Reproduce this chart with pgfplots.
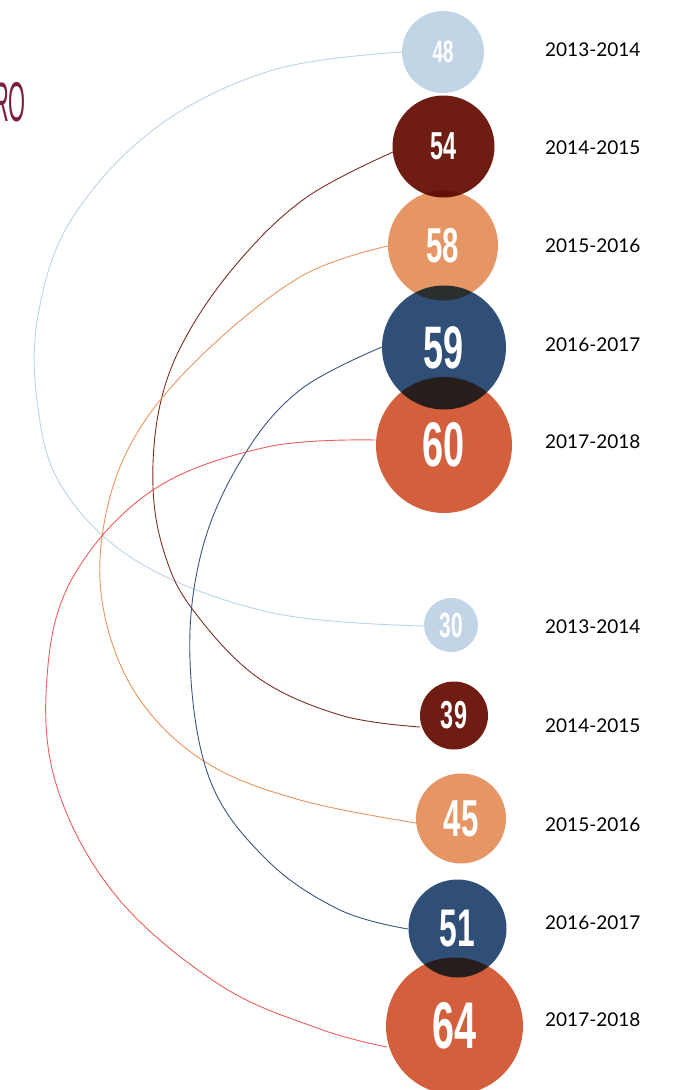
\documentclass[border=0pt]{standalone}
\usepackage{pgfplots}
\pgfplotsset{compat=1.18}
\usepackage{pgfplotstable}
\usepackage{graphicx}
\usepackage{fontspec}
\setmainfont{Lato}
\newfontfamily\numfont{Liberation Sans}

\definecolor{cA}{HTML}{C2D5E7}
\definecolor{cB}{HTML}{6F1D12}
\definecolor{cC}{HTML}{E59664}
\definecolor{cD}{HTML}{2F4F76}
\definecolor{cE}{HTML}{D45F3D}
\definecolor{lA}{HTML}{BCD2E8}
\definecolor{lB}{HTML}{7A2E24}
\definecolor{lC}{HTML}{E9955E}
\definecolor{lD}{HTML}{3A5580}
\definecolor{lE}{HTML}{EF5D5D}
\definecolor{titlered}{HTML}{7D1F3A}

% filled disc without outline (so multiply blending gives no dark ring)
\pgfdeclareplotmark{disc}{\pgfpathcircle{\pgfpointorigin}{\pgfplotmarksize}\pgfusepathqfill}

% x, y in picture pixels (y downwards), r = radius, v = value, fs = digit size
\pgfplotstableread{
x y r v fs
443 52 41 48 31
451 625 27 30 35
}\sA
\pgfplotstableread{
x y r v fs
443.5 146.5 51 54 39
454 715.5 34 39 39
}\sB
\pgfplotstableread{
x y r v fs
443 245.5 55 58 49
461 818.5 45 45 52
}\sC
\pgfplotstableread{
x y r v fs
444 347.5 62 59 60
457.5 928.5 49 51 53
}\sD
\pgfplotstableread{
x y r v fs
444 445 68 60 63
454.5 1026 68.5 64 66
}\sE

\pgfplotsset{
  bubble/.style={scatter, only marks, mark=disc, point meta=\thisrow{v},
    scatter/use mapped color={fill=#1},
    visualization depends on={\thisrow{r}\as\rad},
    scatter/@pre marker code/.append style={/tikz/mark size=\rad pt},
    blend mode=multiply},
  numlbl/.style={only marks, mark=none, point meta=explicit symbolic,
    visualization depends on={\thisrow{fs}\as\fs},
    nodes near coords={\numfont\bfseries\fontsize{\fs pt}{\fs pt}\selectfont\scalebox{0.6}[1]{\pgfplotspointmeta}},
    nodes near coords style={anchor=center, text=white, inner sep=0pt}},
  arc/.style={smooth, tension=0.62, no markers, line width=0.9pt, color=#1},
}

\begin{document}
\begin{tikzpicture}
\path[use as bounding box, clip] (0,0) rectangle (674pt,1090pt);
\begin{axis}[
  at={(0,0)}, anchor=south west,
  scale only axis, width=674pt, height=1090pt,
  xmin=0, xmax=674, ymin=0, ymax=1090,
  y dir=reverse,
  hide axis, clip=false,
]
% connecting arcs
\addplot[arc=lA] coordinates {(403,52) (273,70) (157,127) (73,217) (39,310) (37,400) (62,487) (140,563) (273,613) (424,626)};
\addplot[arc=lB] coordinates {(393,152) (307,197) (240,260) (187,335) (160,405) (153,487) (165,555) (193,610) (257,677) (340,715) (420,727)};
\addplot[arc=lC] coordinates {(388,246) (300,277) (200,357) (133,440) (103,530) (105,617) (140,700) (207,763) (300,800) (416,823)};
\addplot[arc=lD] coordinates {(382,347) (300,390) (243,457) (202,550) (190,660) (210,780) (267,860) (340,910) (408,929)};
\addplot[arc=lE] coordinates {(375,440) (267,447) (153,490) (73,577) (47,677) (57,787) (117,897) (220,985) (320,1029) (387,1047)};
% bubbles
\addplot[bubble=cA] table {\sA};
\addplot[bubble=cB] table {\sB};
\addplot[bubble=cC] table {\sC};
\addplot[bubble=cD] table {\sD};
\addplot[bubble=cE] table {\sE};
% values
\addplot[numlbl] table[meta=v] {\sA};
\addplot[numlbl] table[meta=v] {\sB};
\addplot[numlbl] table[meta=v] {\sC};
\addplot[numlbl] table[meta=v] {\sD};
\addplot[numlbl] table[meta=v] {\sE};
% season labels
\begin{scope}[every node/.style={anchor=west, inner sep=0pt, font=\fontsize{19pt}{19pt}\selectfont}]
\node at (axis cs:545,49.5) {2013-2014};
\node at (axis cs:545,147.5) {2014-2015};
\node at (axis cs:545,245.5) {2015-2016};
\node at (axis cs:545,344.5) {2016-2017};
\node at (axis cs:545,441.5) {2017-2018};
\node at (axis cs:545,627) {2013-2014};
\node at (axis cs:545,726) {2014-2015};
\node at (axis cs:545,824.5) {2015-2016};
\node at (axis cs:545,922.5) {2016-2017};
\node at (axis cs:545,1020) {2017-2018};
\end{scope}
\node[anchor=east, inner sep=0pt, text=titlered, font=\numfont\fontsize{56pt}{56pt}\selectfont] at (axis cs:26,102) {\scalebox{0.39}[1]{RO}};
\end{axis}
\end{tikzpicture}
\end{document}
